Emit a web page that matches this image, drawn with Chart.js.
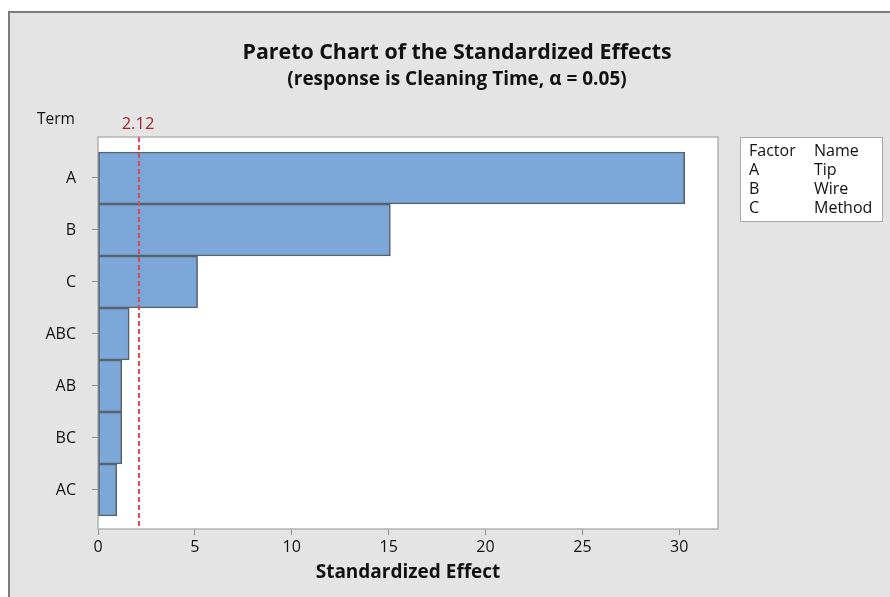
<!DOCTYPE html>
<html>
<head>
<meta charset="utf-8">
<script src="https://cdn.jsdelivr.net/npm/chart.js@4.4.1/dist/chart.umd.min.js"></script>
<style>
  html, body { margin: 0; padding: 0; background: #ffffff; }
  #wrap { width: 890px; height: 597px; }
</style>
</head>
<body>
<div id="wrap"><canvas id="pareto" width="890" height="597"></canvas></div>
<script>
// Terms, ordered by size of standardized effect
const terms = ['A', 'B', 'C', 'ABC', 'AB', 'BC', 'AC'];
const effects = [30.28, 15.09, 5.14, 1.61, 1.23, 1.23, 0.97];
// Critical value of the effect at alpha = 0.05
const criticalValue = 2.12;
const xTicks = [0, 5, 10, 15, 20, 25, 30];
// Factor key
const factorCodes = ['A', 'B', 'C'];
const factorNames = ['Tip', 'Wire', 'Method'];

const FONT = "'Open Sans', 'Noto Sans', sans-serif";

const decorations = {
  id: 'decorations',
  beforeDraw(chart) {
    const ctx = chart.ctx;
    const a = chart.chartArea;
    ctx.save();
    ctx.fillStyle = '#ffffff';
    ctx.fillRect(0, 0, chart.width, chart.height);
    // window panel
    ctx.fillStyle = '#e4e4e4';
    ctx.fillRect(9, 12, chart.width - 9, chart.height - 12);
    ctx.fillStyle = '#7c7c7c';
    ctx.fillRect(8, 11, chart.width - 8, 2);
    ctx.fillRect(8, 11, 2, chart.height - 11);
    // plot area
    ctx.fillStyle = '#ffffff';
    ctx.fillRect(a.left, a.top, a.right - a.left, a.bottom - a.top);

    // titles
    ctx.fillStyle = '#111111';
    ctx.textAlign = 'center';
    ctx.textBaseline = 'middle';
    ctx.font = `bold 21.4px ${FONT}`;
    ctx.fillText('Pareto Chart of the Standardized Effects', 457, 53);
    ctx.font = `bold 19px ${FONT}`;
    ctx.fillText('(response is Cleaning Time, \u03B1 = 0.05)', 457, 80);

    // axis heading for terms
    ctx.font = `15.5px ${FONT}`;
    ctx.textAlign = 'left';
    ctx.fillStyle = '#111111';
    ctx.fillText('Term', 37, 120);

    // factor key box
    const bx = 740, by = 137, bw = 143, bh = 85;
    ctx.fillStyle = '#ffffff';
    ctx.fillRect(bx, by, bw, bh);
    ctx.strokeStyle = '#a8a8a8';
    ctx.lineWidth = 1;
    ctx.strokeRect(bx + 0.5, by + 0.5, bw - 1, bh - 1);
    ctx.fillStyle = '#111111';
    ctx.font = `16px ${FONT}`;
    ctx.fillText('Factor', 749, 151);
    ctx.fillText('Name', 814, 151);
    factorCodes.forEach((c, i) => {
      const y = 170 + i * 19;
      ctx.fillText(c, 749, y);
      ctx.fillText(factorNames[i], 814, y);
    });
    ctx.restore();
  },
  beforeDatasetsDraw(chart) {
    const ctx = chart.ctx;
    const a = chart.chartArea;
    ctx.save();
    ctx.strokeStyle = '#b2b2b2';
    ctx.lineWidth = 1.5;
    ctx.strokeRect(a.left, a.top, a.right - a.left, a.bottom - a.top);
    ctx.restore();
  },
  afterDatasetsDraw(chart) {
    const ctx = chart.ctx;
    const a = chart.chartArea;
    const x = Math.round(chart.scales.x.getPixelForValue(criticalValue));
    ctx.save();
    ctx.strokeStyle = '#dc4b52';
    ctx.lineWidth = 2;
    ctx.setLineDash([5, 3]);
    ctx.beginPath();
    ctx.moveTo(x, a.top);
    ctx.lineTo(x, a.bottom);
    ctx.stroke();
    ctx.setLineDash([]);
    ctx.fillStyle = '#a3262e';
    ctx.font = `16.5px ${FONT}`;
    ctx.textAlign = 'center';
    ctx.textBaseline = 'middle';
    ctx.fillText(criticalValue.toFixed(2), x - 1, 124);
    ctx.restore();
  }
};

new Chart(document.getElementById('pareto'), {
  type: 'bar',
  data: {
    datasets: [{
      data: effects.map((v, i) => ({ x: v, y: i })),
      backgroundColor: '#7ba7d9',
      borderColor: '#58626e',
      borderWidth: 1.6,
      borderSkipped: false,
      barPercentage: 1,
      categoryPercentage: 1
    }]
  },
  options: {
    indexAxis: 'y',
    responsive: false,
    animation: false,
    layout: { padding: { top: 137, left: 38, right: 172, bottom: 8 } },
    plugins: {
      legend: { display: false },
      tooltip: { enabled: false },
      title: { display: false }
    },
    scales: {
      x: {
        type: 'linear',
        min: 0,
        max: 32,
        afterFit(scale) { scale.height = 60; },
        afterBuildTicks(scale) { scale.ticks = xTicks.map(v => ({ value: v })); },
        ticks: {
          includeBounds: false,
          color: '#111111',
          font: { family: FONT, size: 16 },
          padding: 3,
          maxRotation: 0
        },
        grid: {
          drawOnChartArea: false,
          drawTicks: true,
          tickLength: 6,
          color: '#8c8c8c',
          lineWidth: 1
        },
        border: { display: false },
        title: {
          display: true,
          text: 'Standardized Effect',
          color: '#111111',
          font: { family: FONT, size: 19, weight: 'bold' },
          padding: { top: 2, bottom: 5 }
        }
      },
      y: {
        type: 'linear',
        reverse: true,
        offset: false,
        min: -0.788,
        max: 6.75,
        afterFit(scale) { scale.width = 60; },
        afterBuildTicks(scale) { scale.ticks = terms.map((_, i) => ({ value: i })); },
        ticks: {
          color: '#111111',
          font: { family: FONT, size: 16 },
          padding: 16,
          callback: (v) => terms[v]
        },
        grid: {
          offset: false,
          drawOnChartArea: false,
          drawTicks: true,
          tickLength: 6,
          color: '#8c8c8c',
          lineWidth: 1
        },
        border: { display: false }
      }
    }
  },
  plugins: [decorations]
});
</script>
</body>
</html>
